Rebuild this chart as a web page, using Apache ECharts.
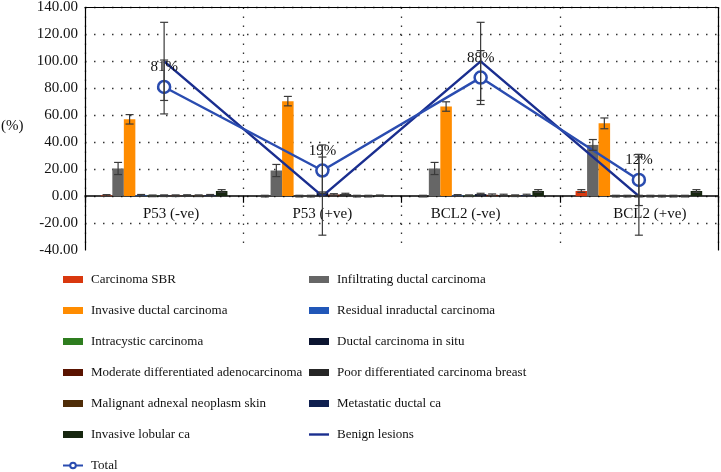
<!DOCTYPE html>
<html>
<head>
<meta charset="utf-8">
<script src="https://cdn.jsdelivr.net/npm/echarts@6/dist/echarts.min.js"></script>
<style>html,body{margin:0;padding:0;background:#fff;}#c{width:721px;height:472px;}</style>
</head>
<body>
<div id="c"></div>
<script>
var categories = ['P53 (-ve)', 'P53 (+ve)', 'BCL2 (-ve)', 'BCL2 (+ve)'];
var yTicks = { min: -40, max: 140, interval: 20 };

var barNames = [
  'Carcinoma SBR', 'Infiltrating ductal carcinoma', 'Invasive ductal carcinoma',
  'Residual inraductal carcinoma', 'Intracystic carcinoma', 'Ductal carcinoma in situ',
  'Moderate differentiated adenocarcinoma', 'Poor differentiated carcinoma breast',
  'Malignant adnexal neoplasm skin', 'Metastatic ductal ca', 'Invasive lobular ca'
];
var barColors = ['#d9380e', '#666666', '#ff8c00', '#2157b8', '#2e7d1f', '#0b1430',
  '#5a1300', '#262626', '#4f2d08', '#0f1f4f', '#16260f'];

var carcinomaSBR      = [0.5, 0.0, 0.0, 3.8];
var infiltratingDuct  = [20.5, 19.0, 20.5, 38.0];
var invasiveDuct      = [57.0, 70.5, 66.5, 54.0];
var residualIntraduct = [0.6, 0.0, 0.5, 0.0];
var intracystic       = [0.2, 0.0, 0.3, 0.0];
var ductalInSitu      = [0.3, 2.5, 1.5, 0.0];
var moderateDiff      = [0.3, 1.2, 1.0, 0.0];
var poorDiff          = [0.4, 1.5, 0.8, 0.0];
var malignantAdnexal  = [0.3, 0.0, 0.3, 0.0];
var metastaticDuct    = [0.6, 0.0, 0.8, 0.0];
var invasiveLobular   = [3.8, 0.3, 3.8, 3.8];

var carcinomaSBRErr      = [0.6, 0.6, 0.6, 1.0];
var infiltratingDuctErr  = [4.5, 4.5, 4.5, 4.0];
var invasiveDuctErr      = [3.5, 3.5, 3.5, 4.0];
var smallErr             = [0.6, 0.6, 0.6, 0.6];
var invasiveLobularErr   = [1.0, 0.5, 1.0, 1.0];

var benignLesions = [100, 0, 100, 0];
var benignErr     = [29, 29, 29, 29];
var total         = [81, 19, 88, 12];
var totalErr      = [20, 19, 20, 19];

var barValues = [carcinomaSBR, infiltratingDuct, invasiveDuct, residualIntraduct, intracystic,
  ductalInSitu, moderateDiff, poorDiff, malignantAdnexal, metastaticDuct, invasiveLobular];
var barErrors = [carcinomaSBRErr, infiltratingDuctErr, invasiveDuctErr, smallErr, smallErr,
  smallErr, smallErr, smallErr, smallErr, smallErr, invasiveLobularErr];

var FONT = '"Liberation Serif", "DejaVu Serif", serif';
var nBars = barNames.length;

var GRID = { left: 85, right: 3, top: 6, bottom: 222 };
var plotH = 472 - GRID.top - GRID.bottom;
var zeroOffset = -plotH * (0 - yTicks.min) / (yTicks.max - yTicks.min);

var errData = [];
barValues.forEach(function (vals, i) {
  vals.forEach(function (v, j) {
    var e = barErrors[i][j];
    errData.push([j, v - e, v + e, i - (nBars - 1) / 2]);
  });
});
benignLesions.forEach(function (v, j) { errData.push([j, v - benignErr[j], v + benignErr[j], 0]); });
total.forEach(function (v, j) { errData.push([j, v - totalErr[j], v + totalErr[j], 0]); });

function renderErr(params, api) {
  var cat = api.value(0), lo = api.value(1), hi = api.value(2), off = api.value(3);
  var band = api.size([1, 0])[0];
  var bw = band * 0.8 / nBars;
  var p1 = api.coord([cat, lo]);
  var p2 = api.coord([cat, hi]);
  var x = p1[0] + off * bw;
  var cap = 4;
  var st = { stroke: '#3a3a3a', lineWidth: 1.2 };
  return {
    type: 'group',
    children: [
      { type: 'line', shape: { x1: x, y1: p1[1], x2: x, y2: p2[1] }, style: st },
      { type: 'line', shape: { x1: x - cap, y1: p1[1], x2: x + cap, y2: p1[1] }, style: st },
      { type: 'line', shape: { x1: x - cap, y1: p2[1], x2: x + cap, y2: p2[1] }, style: st }
    ]
  };
}

var series = barNames.map(function (name, i) {
  return {
    name: name, type: 'bar', data: barValues[i],
    barGap: 0, barCategoryGap: '20%',
    itemStyle: { color: barColors[i] }
  };
});
series.push({
  name: 'Benign lesions', type: 'line', data: benignLesions, symbol: 'none',
  lineStyle: { color: '#1a2e8f', width: 2.5 }, itemStyle: { color: '#1a2e8f' }, z: 4
});
series.push({
  name: 'Total', type: 'line', data: total, symbol: 'circle', symbolSize: 12,
  lineStyle: { color: '#2a4cb0', width: 2.5 },
  itemStyle: { color: '#ffffff', borderColor: '#2a4cb0', borderWidth: 2.5 },
  label: { show: true, position: 'top', distance: 5, formatter: '{c}%', color: '#111',
    fontFamily: FONT, fontSize: 15 },
  z: 5
});
series.push({
  type: 'custom', renderItem: renderErr, data: errData,
  encode: { x: 0, y: [1, 2] }, z: 6, silent: true
});

var leftItems = ['Carcinoma SBR', 'Invasive ductal carcinoma', 'Intracystic carcinoma',
  'Moderate differentiated adenocarcinoma', 'Malignant adnexal neoplasm skin', 'Invasive lobular ca', 'Total'];
var rightItems = ['Infiltrating ductal carcinoma', 'Residual inraductal carcinoma', 'Ductal carcinoma in situ',
  'Poor differentiated carcinoma breast', 'Metastatic ductal ca', 'Benign lesions'];
function legendData(arr) {
  return arr.map(function (n) {
    if (n === 'Total') return { name: n };
    if (n === 'Benign lesions') return { name: n, icon: 'path://M0,0 L20,0 L20,2.4 L0,2.4 Z' };
    return { name: n, icon: 'rect' };
  });
}
var legendCommon = {
  orient: 'vertical', top: 273, padding: 0, itemWidth: 20, itemHeight: 7, itemGap: 18,
  textStyle: { fontFamily: FONT, fontSize: 13, color: '#111', padding: [0, 0, 0, 3] }
};

var labelShift = { 'P53 (-ve)': 'r7', 'P53 (+ve)': 'c0', 'BCL2 (-ve)': 'l15', 'BCL2 (+ve)': 'r11' };
var labelRich = {};
['r7', 'c0', 'l15', 'r11'].forEach(function (k) {
  var base = { fontFamily: FONT, fontSize: 15, color: '#111' };
  if (k === 'r7') base.padding = [0, 0, 0, 14];
  if (k === 'l15') base.padding = [0, 30, 0, 0];
  if (k === 'r11') base.padding = [0, 0, 0, 22];
  labelRich[k] = base;
});

var chart = echarts.init(document.getElementById('c'), null, { renderer: 'canvas' });
chart.setOption({
  animation: false,
  backgroundColor: '#fff',
  grid: GRID,
  legend: [
    Object.assign({}, legendCommon, { left: 62, data: legendData(leftItems) }),
    Object.assign({}, legendCommon, { left: 309, data: legendData(rightItems) })
  ],
  graphic: [{
    type: 'text', left: 1, top: 119,
    style: { text: '(%)', fontFamily: FONT, fontSize: 15, fill: '#111' }
  }],
  xAxis: [{
    type: 'category', data: categories, position: 'bottom', offset: zeroOffset,
    axisLine: { onZero: false, lineStyle: { color: '#000', width: 1.5 } },
    axisTick: { show: true, alignWithLabel: false, length: 7, lineStyle: { color: '#000', width: 1.2 } },
    axisLabel: { margin: 11, fontFamily: FONT, fontSize: 15, color: '#111', rich: labelRich,
      formatter: function (v) { return '{' + labelShift[v] + '|' + v + '}'; } },
    splitLine: { show: true, lineStyle: { color: '#333', type: [1.5, 7.5], width: 1.3 } }
  }, {
    type: 'category', data: categories, position: 'top',
    axisLine: { onZero: false, lineStyle: { color: '#000', width: 1.2 } },
    axisTick: { show: false }, axisLabel: { show: false }, splitLine: { show: false }
  }],
  yAxis: [{
    type: 'value', min: yTicks.min, max: yTicks.max, interval: yTicks.interval,
    axisLine: { show: true, onZero: false, lineStyle: { color: '#000', width: 1.2 } },
    axisTick: { show: false },
    axisLabel: { margin: 7, fontFamily: FONT, fontSize: 15, color: '#111',
      formatter: function (v) { return v.toFixed(2); } },
    splitLine: { show: true, showMinLine: false, lineStyle: { color: '#333', type: [1.5, 7.5], width: 1.3 } }
  }, {
    type: 'value', min: yTicks.min, max: yTicks.max, interval: yTicks.interval, position: 'right',
    axisLine: { show: true, onZero: false, lineStyle: { color: '#000', width: 1.2 } },
    axisTick: { show: false }, axisLabel: { show: false }, splitLine: { show: false }
  }],
  series: series
});
</script>
</body>
</html>
